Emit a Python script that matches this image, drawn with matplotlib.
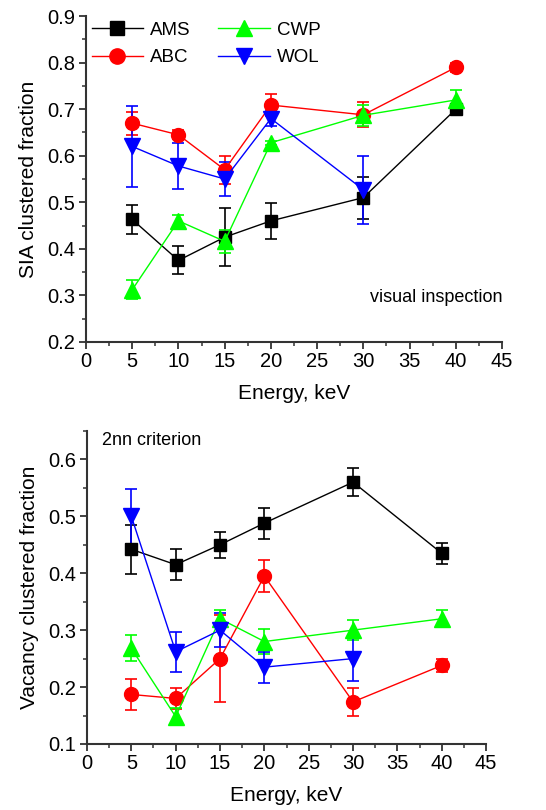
import numpy as np
import matplotlib
matplotlib.use("Agg")
import matplotlib.pyplot as plt
from matplotlib.ticker import MultipleLocator, FormatStrFormatter
from matplotlib.lines import Line2D

plt.rcParams['font.family'] = ['Liberation Sans', 'DejaVu Sans']

energy = [5, 10, 15, 20, 30, 40]
energy_wol = [5, 10, 15, 20, 30]

# SIA clustered fraction (visual inspection)
sia_ams = [0.463, 0.375, 0.425, 0.460, 0.510, 0.700]
sia_ams_err = [0.032, 0.030, 0.063, 0.038, 0.045, 0.012]
sia_abc = [0.670, 0.645, 0.570, 0.709, 0.688, 0.790]
sia_abc_err = [0.025, 0.010, 0.030, 0.023, 0.027, 0.010]
sia_cwp = [0.312, 0.460, 0.416, 0.628, 0.687, 0.720]
sia_cwp_err = [0.020, 0.013, 0.025, 0.004, 0.022, 0.022]
sia_wol = [0.620, 0.578, 0.550, 0.680, 0.527]
sia_wol_err = [0.087, 0.050, 0.036, 0.017, 0.073]

# Vacancy clustered fraction (2nn criterion)
vac_ams = [0.442, 0.415, 0.450, 0.488, 0.560, 0.435]
vac_ams_err = [0.043, 0.027, 0.023, 0.027, 0.025, 0.018]
vac_abc = [0.187, 0.180, 0.250, 0.395, 0.174, 0.238]
vac_abc_err = [0.027, 0.018, 0.077, 0.028, 0.025, 0.012]
vac_cwp = [0.268, 0.148, 0.320, 0.280, 0.300, 0.320]
vac_cwp_err = [0.023, 0.015, 0.015, 0.022, 0.018, 0.015]
vac_wol = [0.500, 0.262, 0.300, 0.235, 0.250]
vac_wol_err = [0.048, 0.035, 0.030, 0.027, 0.040]

styles = {
    'AMS': dict(color='black', marker='s', ms=9),
    'ABC': dict(color='red', marker='o', ms=10),
    'CWP': dict(color='#00ff00', marker='^', ms=11),
    'WOL': dict(color='blue', marker='v', ms=11),
}


def draw(ax, x, y, err, name):
    st = styles[name]
    ax.errorbar(x, y, yerr=err, color=st['color'], marker=st['marker'], ms=st['ms'],
                lw=1, elinewidth=1.2, capsize=4, capthick=1.2)


def style_axis(ax, ylo, yhi, ylabel):
    ax.set_xlim(0, 45)
    ax.set_ylim(ylo, yhi)
    ax.spines['top'].set_visible(False)
    ax.spines['right'].set_visible(False)
    for s in ['left', 'bottom']:
        ax.spines[s].set_linewidth(1.5)
        ax.spines[s].set_color('#333333')
    ax.xaxis.set_major_locator(MultipleLocator(5))
    ax.xaxis.set_minor_locator(MultipleLocator(2.5))
    ax.yaxis.set_major_locator(MultipleLocator(0.1))
    ax.yaxis.set_minor_locator(MultipleLocator(0.05))
    ax.yaxis.set_major_formatter(FormatStrFormatter('%.1f'))
    ax.tick_params(which='major', direction='out', length=5, width=1.3, labelsize=14.5,
                   color='#333333', pad=2.5)
    ax.tick_params(which='minor', direction='out', length=3, width=1.1, color='#333333')
    ax.set_xlabel('Energy, keV', fontsize=15, labelpad=9)
    ax.set_ylabel(ylabel, fontsize=15, labelpad=7)


fig = plt.figure(figsize=(5.46, 8.10), dpi=100)
ax1 = fig.add_axes([0.1575, 0.578, 0.762, 0.402])
ax2 = fig.add_axes([0.1593, 0.0815, 0.731, 0.3865])

draw(ax1, energy, sia_ams, sia_ams_err, 'AMS')
draw(ax1, energy, sia_abc, sia_abc_err, 'ABC')
draw(ax1, energy, sia_cwp, sia_cwp_err, 'CWP')
draw(ax1, energy_wol, sia_wol, sia_wol_err, 'WOL')
style_axis(ax1, 0.2, 0.9, 'SIA clustered fraction')
ax1.text(1.0, 0.135, 'visual inspection', transform=ax1.transAxes, ha='right', va='center', fontsize=13)

handles = [Line2D([], [], color=styles[n]['color'], marker=styles[n]['marker'],
                  ms=styles[n]['ms'] + 1, lw=1) for n in ['AMS', 'ABC', 'CWP', 'WOL']]
ax1.legend(handles, ['AMS', 'ABC', 'CWP', 'WOL'], loc='upper left', ncol=2, frameon=False,
           fontsize=13.5, handlelength=2.75, columnspacing=1.5, borderaxespad=0.15, borderpad=0.15,
           handletextpad=0.35, labelspacing=0.55, bbox_to_anchor=(0.0, 1.0))

draw(ax2, energy, vac_ams, vac_ams_err, 'AMS')
draw(ax2, energy, vac_abc, vac_abc_err, 'ABC')
draw(ax2, energy, vac_cwp, vac_cwp_err, 'CWP')
draw(ax2, energy_wol, vac_wol, vac_wol_err, 'WOL')
style_axis(ax2, 0.1, 0.65, 'Vacancy clustered fraction')
ax2.text(0.038, 0.968, '2nn criterion', transform=ax2.transAxes, ha='left', va='center', fontsize=13)

fig.savefig('out.png', dpi=100)
